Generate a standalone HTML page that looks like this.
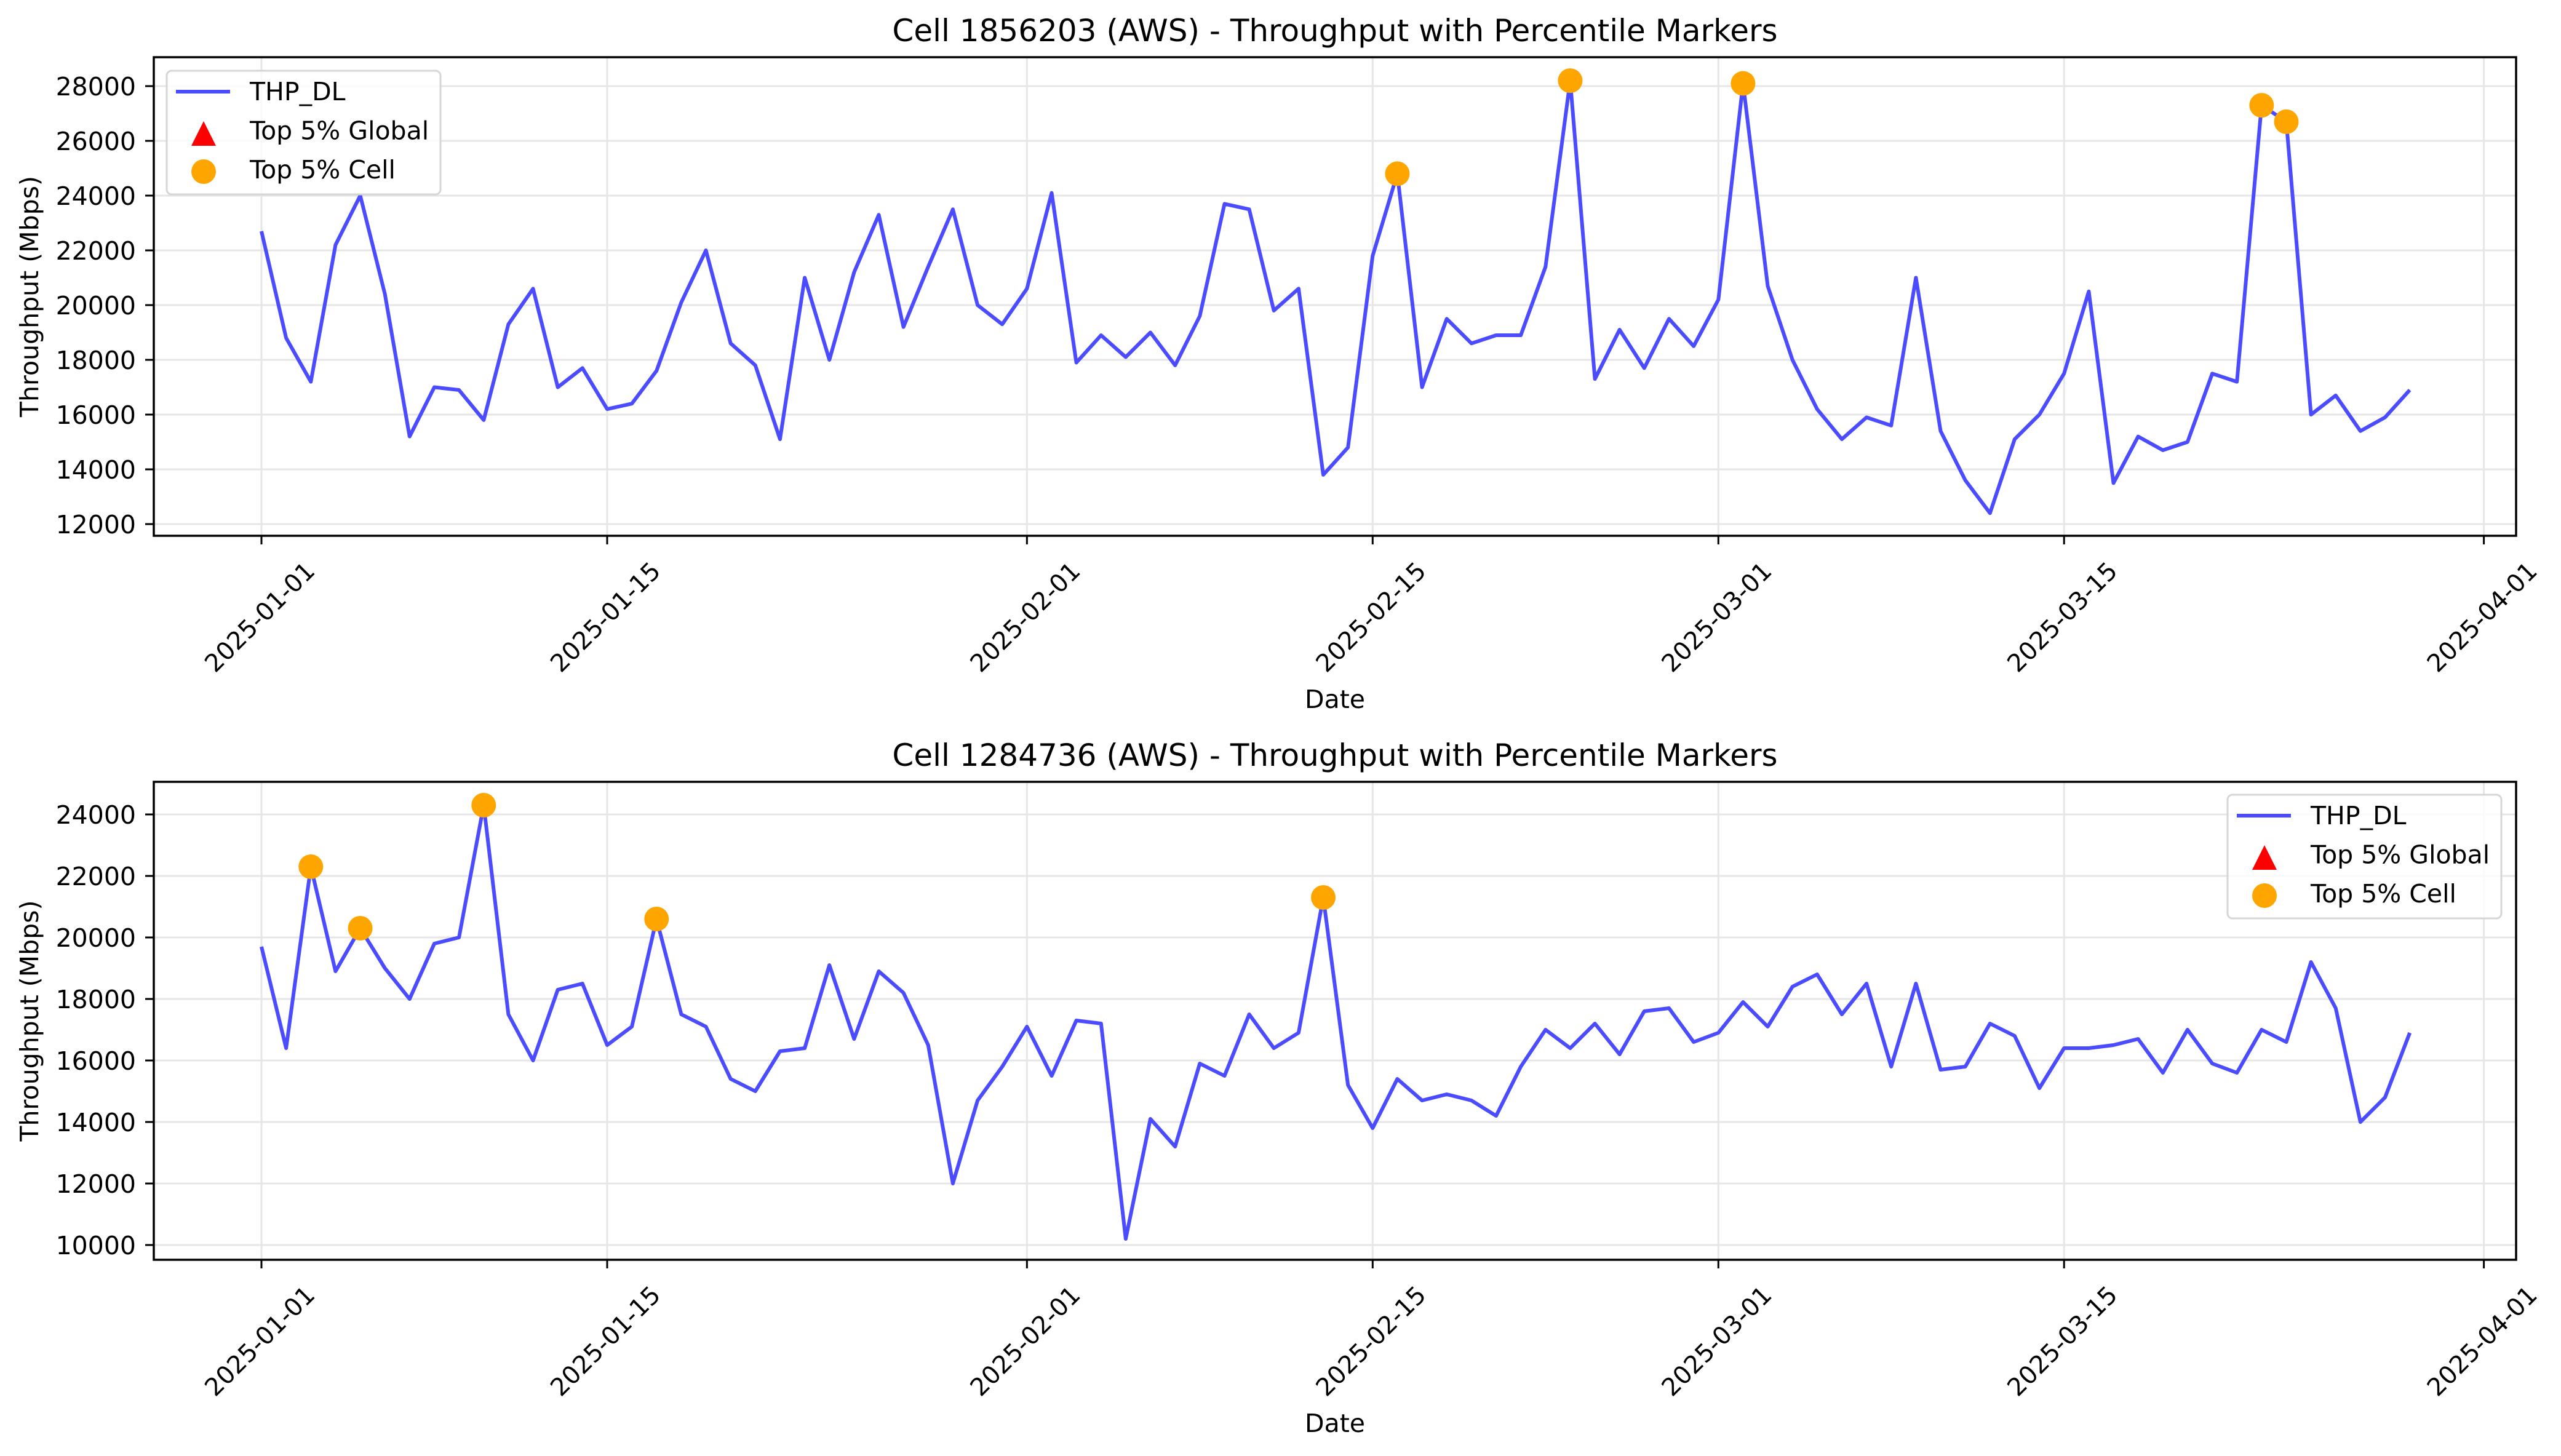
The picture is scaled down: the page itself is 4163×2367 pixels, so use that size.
<!DOCTYPE html>
<html><head><meta charset="utf-8"><style>
html,body{margin:0;padding:0;background:#fff;}
svg{display:block;font-family:"DejaVu Sans","Liberation Sans",sans-serif;}
</style></head><body>
<svg id="fig" width="4163" height="2367" viewBox="0 0 4163 2367" xmlns="http://www.w3.org/2000/svg"></svg>
<script>
const dateTicks = ["2025-01-01","2025-01-15","2025-02-01","2025-02-15","2025-03-01","2025-03-15","2025-04-01"];
const dateTickDays = [0,14,31,45,59,73,90];
const topValues = [22700,18800,17200,22200,24000,20400,15200,17000,16900,15800,19300,20600,17000,17700,16200,16400,17600,20100,22000,18600,17800,15100,21000,18000,21200,23300,19200,21400,23500,20000,19300,20600,24100,17900,18900,18100,19000,17800,19600,23700,23500,19800,20600,13800,14800,21800,24800,17000,19500,18600,18900,18900,21400,28200,17300,19100,17700,19500,18500,20200,28100,20700,18000,16200,15100,15900,15600,21000,15400,13600,12400,15100,16000,17500,20500,13500,15200,14700,15000,17500,17200,27300,26700,16000,16700,15400,15900,16900];
const topMarkerDays = [46,53,60,81,82];
const topYTicks = [12000,14000,16000,18000,20000,22000,24000,26000,28000];
const botValues = [19700,16400,22300,18900,20300,19000,18000,19800,20000,24300,17500,16000,18300,18500,16500,17100,20600,17500,17100,15400,15000,16300,16400,19100,16700,18900,18200,16500,12000,14700,15800,17100,15500,17300,17200,10200,14100,13200,15900,15500,17500,16400,16900,21300,15200,13800,15400,14700,14900,14700,14200,15800,17000,16400,17200,16200,17600,17700,16600,16900,17900,17100,18400,18800,17500,18500,15800,18500,15700,15800,17200,16800,15100,16400,16400,16500,16700,15600,17000,15900,15600,17000,16600,19200,17700,14000,14800,16900];
const botMarkerDays = [2,4,9,16,43];
const botYTicks = [10000,12000,14000,16000,18000,20000,22000,24000];

const NS="http://www.w3.org/2000/svg";
const svg=document.getElementById('fig');
function mk(tag,attrs,parent){const e=document.createElementNS(NS,tag);for(const k in attrs)e.setAttribute(k,attrs[k]);(parent||svg).appendChild(e);return e;}

function panel(cfg){
  const g=mk('g',{});
  
  
  const L=250,R=4090,T=cfg.top,B=cfg.bottom;
  const x0=425,dayPx=40.14;
  const xs=d=>x0+d*dayPx;
  const ys=v=>cfg.yAt0-(v-cfg.v0)*cfg.pxPerUnit;
  mk('rect',{x:L,y:T,width:R-L,height:B-T,fill:'#fff'},g);
  dateTickDays.forEach(d=>{
    mk('line',{x1:xs(d),x2:xs(d),y1:T,y2:B,stroke:'#e6e6e6','stroke-width':3},g);
  });
  cfg.yTicks.forEach(v=>{
    mk('line',{x1:L,x2:R,y1:ys(v),y2:ys(v),stroke:'#e6e6e6','stroke-width':3},g);
  });
  const pts=cfg.values.map((v,i)=>xs(i).toFixed(1)+','+ys(v).toFixed(1)).join(' ');
  const pl=mk('polyline',{points:pts,fill:'none',stroke:'#4b4bff','stroke-width':6,'stroke-linejoin':'round'},g);
  
  
  cfg.markers.forEach(d=>{
    const c=mk('circle',{cx:xs(d),cy:ys(cfg.values[d]),r:20,fill:'#ffa500'},g);
    
    
  });
  mk('rect',{x:L,y:T,width:R-L,height:B-T,fill:'none',stroke:'#000','stroke-width':3.5},g);
  dateTickDays.forEach((d,i)=>{
    mk('line',{x1:xs(d),x2:xs(d),y1:B,y2:B+14,stroke:'#000','stroke-width':3},g);
    const cx=xs(d)-3, cy=B+132;
    const t=mk('text',{x:cx,y:cy+14,'font-size':40,'text-anchor':'middle',transform:`rotate(-45 ${cx} ${cy})`},g);
    t.textContent=dateTicks[i];
    
    
  });
  cfg.yTicks.forEach(v=>{
    mk('line',{x1:L-14,x2:L,y1:ys(v),y2:ys(v),stroke:'#000','stroke-width':3},g);
    const t=mk('text',{x:L-29,y:ys(v)+15,'font-size':41,'text-anchor':'end'},g);
    t.textContent=v;
    
    
  });
  const tt=mk('text',{x:(L+R)/2,y:T-26,'font-size':50,'text-anchor':'middle'},g);
  tt.textContent=cfg.title;
  
  
  const xl=mk('text',{x:(L+R)/2,y:B+280,'font-size':41,'text-anchor':'middle'},g);
  xl.textContent='Date';
  
  
  const yc=(T+B)/2;
  const yl=mk('text',{x:62,y:yc,'font-size':41,'text-anchor':'middle',transform:`rotate(-90 62 ${yc})`},g);
  yl.textContent='Throughput (Mbps)';
  
  
  const lg=mk('g',{},g);
  
  
  const lx=cfg.legX,ly=cfg.legY,lw=445,lh=201;
  mk('rect',{x:lx,y:ly,width:lw,height:lh,rx:8,fill:'#fff','fill-opacity':0.8,stroke:'#d6d6d6','stroke-width':3},lg);
  mk('line',{x1:lx+15,x2:lx+103,y1:ly+34,y2:ly+34,stroke:'#4b4bff','stroke-width':6},lg);
  mk('polygon',{points:`${lx+60},${ly+82} ${lx+80},${ly+122} ${lx+40},${ly+122}`,fill:'#ff0000'},lg);
  mk('circle',{cx:lx+60,cy:ly+164,r:20,fill:'#ffa500'},lg);
  ['THP_DL','Top 5% Global','Top 5% Cell'].forEach((s,i)=>{
    const t=mk('text',{x:lx+135,y:ly+48+i*63.5,'font-size':41},lg);
    t.textContent=s;
    
    
  });
}
panel({name:'top-chart',top:93,bottom:871,v0:12000,yAt0:852,pxPerUnit:0.0445,values:topValues,markers:topMarkerDays,yTicks:topYTicks,title:'Cell 1856203 (AWS) - Throughput with Percentile Markers',legX:271,legY:115});
panel({name:'bottom-chart',top:1271,bottom:2048,v0:10000,yAt0:2024,pxPerUnit:0.05,values:botValues,markers:botMarkerDays,yTicks:botYTicks,title:'Cell 1284736 (AWS) - Throughput with Percentile Markers',legX:3621,legY:1292});
</script>
</body></html>
